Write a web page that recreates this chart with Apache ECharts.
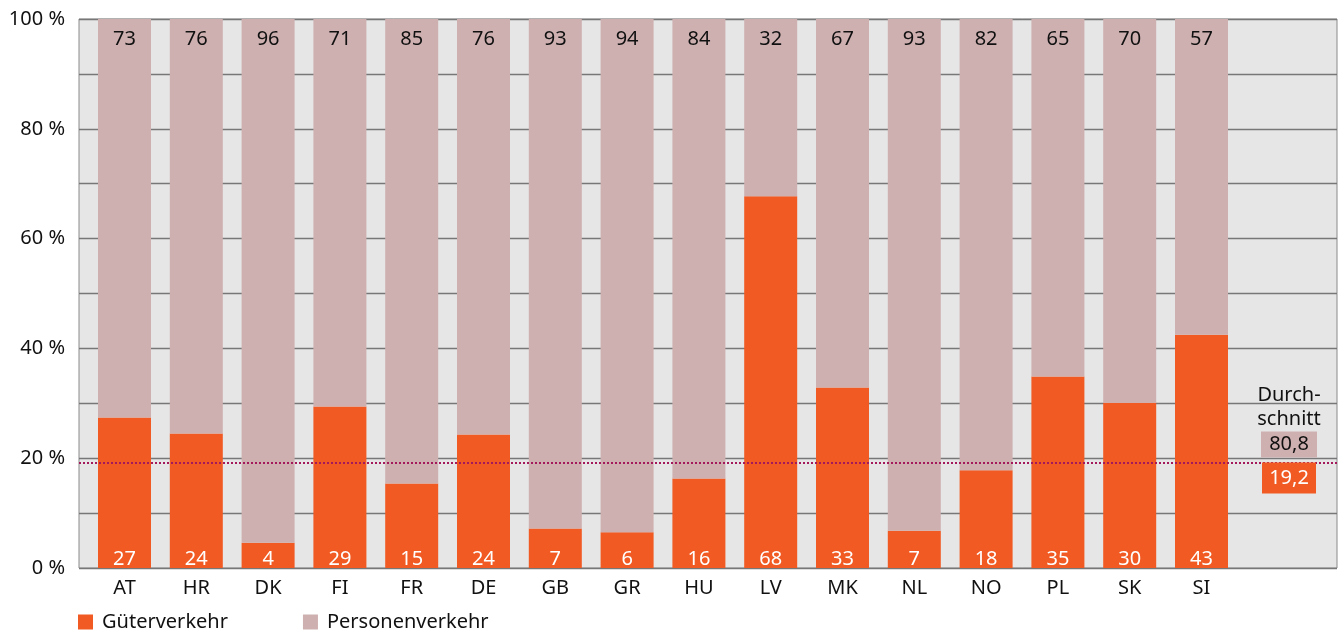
<!DOCTYPE html>
<html>
<head>
<meta charset="utf-8">
<title>Güter- und Personenverkehr</title>
<script src="https://cdn.jsdelivr.net/npm/echarts@6/dist/echarts.min.js"></script>
<style>
    html, body {margin: 0; padding: 0; background: #fff;}
    #chart {width: 1344px; height: 632px;}
</style>
</head>
<body>
<div id="chart"></div>
<script type="text/javascript">
    // Daten
    var laender = ['AT', 'HR', 'DK', 'FI', 'FR', 'DE', 'GB', 'GR', 'HU', 'LV', 'MK', 'NL', 'NO', 'PL', 'SK', 'SI'];
    var gueter = [27.4, 24.5, 4.6, 29.4, 15.4, 24.3, 7.2, 6.5, 16.3, 67.7, 32.9, 6.8, 17.8, 34.9, 30.1, 42.5];
    var personen = [72.6, 75.5, 95.4, 70.6, 84.6, 75.7, 92.8, 93.5, 83.7, 32.3, 67.1, 93.2, 82.2, 65.1, 69.9, 57.5];
    var gueterLabels = [27, 24, 4, 29, 15, 24, 7, 6, 16, 68, 33, 7, 18, 35, 30, 43];
    var personenLabels = [73, 76, 96, 71, 85, 76, 93, 94, 84, 32, 67, 93, 82, 65, 70, 57];
    var avgGueter = 19.2;
    var avgPersonen = 80.8;

    var FONT = '"Noto Sans", "Open Sans", sans-serif';
    var FS = 20;
    var ORANGE = '#f15a22';
    var ROSE = '#cfb0b1';

    // letzte leere Kategorie = Platz für Durchschnitt
    var kategorien = laender.concat(['']);

    var myChart = echarts.init(document.getElementById('chart'));

    var option = {
        animation: false,
        textStyle: {fontFamily: FONT},
        grid: [
            {left: 79, right: 7, top: 19, bottom: 64, show: true, backgroundColor: '#e6e6e6', borderColor: '#8a8a8a', borderWidth: 1},
            {left: 88.6, right: 34.8, top: 19, bottom: 64}
        ],
        legend: {
            left: 78,
            top: 612,
            padding: 0,
            icon: 'rect',
            itemWidth: 15,
            itemHeight: 15,
            itemGap: 75,
            textStyle: {fontSize: FS, color: '#111', width: 130, padding: [0, 0, 0, 4]},
            data: ['Güterverkehr', 'Personenverkehr']
        },
        xAxis: [
            {type: 'value', gridIndex: 0, min: 0, max: 1, show: false},
            {
                type: 'category', gridIndex: 1, data: kategorien,
                axisLine: {show: false}, axisTick: {show: false},
                axisLabel: {color: '#111', fontSize: FS, margin: 10, interval: 0}
            }
        ],
        yAxis: [
            {
                type: 'value', gridIndex: 0, min: 0, max: 100, interval: 10,
                axisLine: {show: false}, axisTick: {show: false},
                axisLabel: {
                    color: '#111', fontSize: FS, margin: 14,
                    formatter: function (v) { return v % 20 === 0 ? v + ' %' : ''; }
                },
                splitLine: {lineStyle: {color: '#777', width: 1.3}}
            },
            {type: 'value', gridIndex: 1, min: 0, max: 100, show: false}
        ],
        series: [
            {
                name: 'Güterverkehr', type: 'bar', stack: 'anteil', xAxisIndex: 1, yAxisIndex: 1,
                barWidth: 53, data: gueter,
                itemStyle: {color: ORANGE},
                label: {
                    show: true, position: 'insideBottom', distance: 0, offset: [0, 3], color: '#fff', fontSize: FS, lineHeight: 24,
                    formatter: function (p) { return gueterLabels[p.dataIndex]; }
                }
            },
            {
                name: 'Personenverkehr', type: 'bar', stack: 'anteil', xAxisIndex: 1, yAxisIndex: 1,
                barWidth: 53, data: personen,
                itemStyle: {color: ROSE},
                label: {
                    show: true, position: 'insideTop', distance: 8, color: '#111', fontSize: FS, lineHeight: 24,
                    formatter: function (p) { return personenLabels[p.dataIndex]; }
                }
            },
            {
                // Durchschnittslinie über die ganze Fläche
                type: 'line', xAxisIndex: 0, yAxisIndex: 0, z: 5, silent: true,
                symbol: 'none', lineStyle: {opacity: 0},
                data: [[0, avgGueter], [1, avgGueter]],
                markLine: {
                    silent: true, symbol: 'none',
                    lineStyle: {color: '#a3195b', type: 'dotted', width: 2},
                    data: [
                        {
                            yAxis: avgGueter,
                            label: {
                                position: 'insideEndTop', distance: [20, 5],
                                formatter: '{t|Durch-}\n{t|schnitt}\n{b|' + String(avgPersonen).replace('.', ',') + '}',
                                rich: {
                                    t: {color: '#111', fontSize: FS, lineHeight: 24, width: 56, align: 'center'},
                                    b: {color: '#111', fontSize: FS, lineHeight: 26, height: 26, width: 56, align: 'center', backgroundColor: ROSE}
                                }
                            }
                        },
                        {
                            yAxis: avgGueter,
                            label: {
                                position: 'insideEndBottom', distance: [21, 0],
                                formatter: '{c|' + String(avgGueter).replace('.', ',') + '}',
                                rich: {
                                    c: {color: '#fff', fontSize: FS, lineHeight: 31, height: 31, width: 54, align: 'center', backgroundColor: ORANGE}
                                }
                            }
                        }
                    ]
                }
            }
        ]
    };

    myChart.setOption(option);
</script>
</body>
</html>
